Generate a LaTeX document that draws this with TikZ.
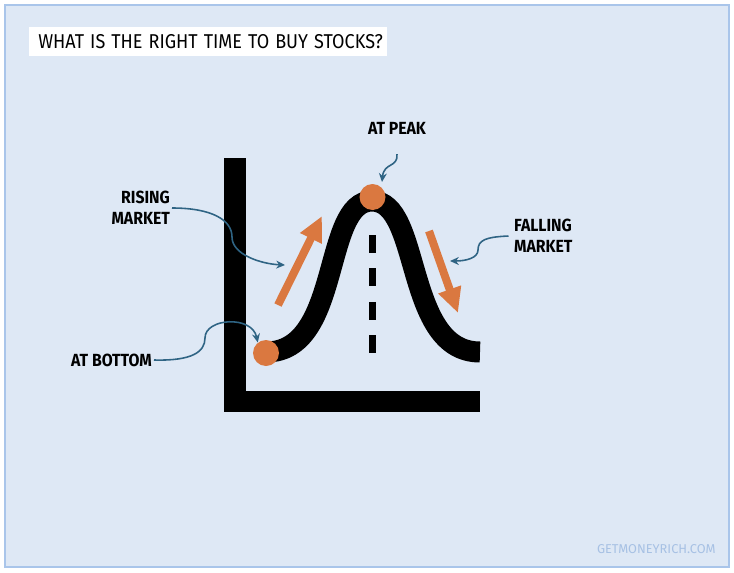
\documentclass[tikz,border=0pt]{standalone}
\usepackage{fontspec}
\setmainfont{Fira Sans}
\usepackage{tikz}
\usetikzlibrary{arrows.meta,positioning}
\definecolor{panel}{HTML}{DEE8F5}
\definecolor{panelline}{HTML}{A9C5EA}
\definecolor{accent}{HTML}{DA7840}
\definecolor{linkblue}{HTML}{2F6484}
\definecolor{faint}{HTML}{A7C1E4}
\newcommand{\squeeze}[1]{\scalebox{0.9}[1]{#1}}

\begin{document}
\begin{tikzpicture}[x=0.02cm, y=-0.02cm,
    tag/.style={font=\bfseries\fontsize{10}{12}\selectfont, inner sep=1pt},
    connector/.style={draw=linkblue, line width=0.9pt, -{Stealth[length=5pt, width=4.5pt]}},
    trend/.style={draw=accent, line width=0.16cm, -{Triangle[length=0.5cm, width=0.45cm]}},
    dot/.style={circle, fill=accent, minimum size=0.52cm, inner sep=0pt},
    curve/.style={draw=black, line width=0.42cm}
]
    \useasboundingbox (0,0) rectangle (734,572);
    \draw[panelline, fill=panel, line width=1.2pt] (5,5) rectangle (729,567);

    % title
    \node[fill=white, anchor=west, minimum width=7.14cm, minimum height=0.58cm,
          inner xsep=0.18cm, text width=6.8cm, font=\fontsize{11.4}{13}\selectfont] (title) at (29,41.5)
          {\squeeze{WHAT IS THE RIGHT TIME TO BUY STOCKS?}};

    % axes
    \fill (224,158) rectangle (246,412);
    \fill (224,391) rectangle (480,412);

    % market curve
    \draw[curve] (266,352) .. controls (342,352) and (322,201) .. (372,201)
                           .. controls (422,201) and (404,352) .. (480,352);
    \draw[line width=0.14cm, dash pattern=on 0.36cm off 0.31cm] (372,235) -- (372,354);

    \node[dot] (bottomdot) at (266,353) {};
    \node[dot] (peakdot) at (372.5,197) {};

    % trend arrows
    \coordinate (risestart) at (278,305);
    \coordinate (riseend) at (322,216);
    \coordinate (fallstart) at (429,231);
    \coordinate (fallend) at (458,313);
    \draw[trend] (risestart) -- (riseend);
    \draw[trend] (fallstart) -- (fallend);

    % labels
    \node[tag, align=right, anchor=east] (rising) at (172,208) {\squeeze{RISING}\\\squeeze{MARKET}};
    \node[tag] (peak) at (397,128) {\squeeze{AT PEAK}};
    \node[tag, align=left, anchor=west] (falling) at (512,236) {\squeeze{FALLING}\\\squeeze{MARKET}};
    \node[tag, anchor=east] (bottom) at (154,360) {\squeeze{AT BOTTOM}};

    \coordinate (risetip) at (285,265);
    \coordinate (peaktip) at (382,182);
    \coordinate (falltip) at (450,261);

    \draw[connector] (rising.east) .. controls (212,208) and (232,220) .. (232,237)
                     .. controls (232,255) and (262,264) .. (risetip);
    \draw[connector] (bottom.east) .. controls (192,361) and (205,352) .. (205,338)
                     .. controls (205,318) and (252,315) .. (bottomdot.128);
    \draw[connector] ([yshift=-0.36cm]peak.south) .. controls (398,168) and (384,162) .. (peaktip);
    \draw[connector] ([xshift=-2pt]falling.west) .. controls (486,237) and (478,240) .. (478,250)
                     .. controls (478,258) and (466,261) .. (falltip);

    % watermark
    \node[text=faint, font=\fontsize{7.3}{9}\selectfont, anchor=east, inner sep=0pt] (site) at (716,549) {GETMONEYRICH.COM};
\end{tikzpicture}
\end{document}
